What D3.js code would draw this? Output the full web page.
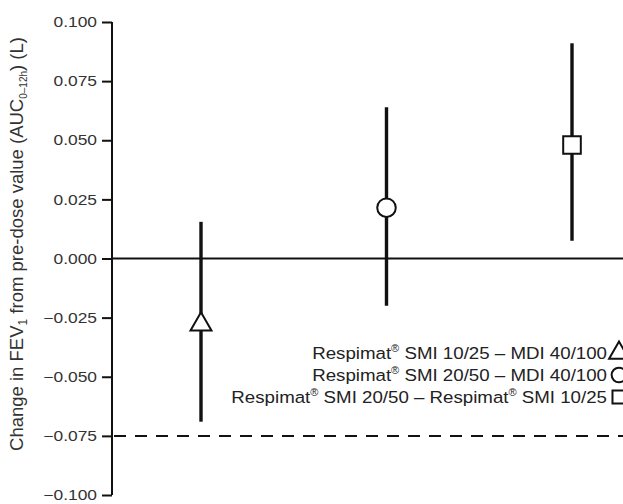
<!DOCTYPE html>
<meta charset="utf-8">
<title>FEV1 change</title>
<style>
    body { margin: 0; background: #fff; }
    svg { font-family: "Liberation Sans", Arial, sans-serif; }
    .tick text { fill: #333; font-size: 14.5px; }
    .legend text { fill: #222; font-size: 17px; }
    .ylabel { fill: #333; font-size: 18.5px; }
    .errbar { stroke: #111; stroke-width: 3.4; }
    .marker { fill: #fff; stroke: #111; stroke-width: 2; }
</style>
<body>
<svg width="623" height="504"></svg>
<script src="https://cdnjs.cloudflare.com/ajax/libs/d3/7.8.5/d3.min.js"></script>
<script>
    // comparisons, left to right
    var categories = ["10/25 vs MDI", "20/50 vs MDI", "20/50 vs 10/25"];
    var means = [-0.027, 0.0215, 0.048];
    var lower = [-0.069, -0.020, 0.0075];
    var upper = [0.0155, 0.064, 0.091];
    var symbols = ["triangle", "circle", "square"];
    var legendLabels = [
        ["Respimat", "®", " SMI 10/25 – MDI 40/100"],
        ["Respimat", "®", " SMI 20/50 – MDI 40/100"],
        ["Respimat", "®", " SMI 20/50 – Respimat", "®", " SMI 10/25"]
    ];
    var yTicks = [0.1, 0.075, 0.05, 0.025, 0, -0.025, -0.05, -0.075, -0.1];
    var margin = -0.075; // non-inferiority margin

    var W = 623, H = 504;
    var axisX = 112;
    var stretch = 1.2; // the scanned type is a bit wider than Liberation Sans
    var svg = d3.select("svg");

    var y = d3.scaleLinear().domain([-0.1, 0.1]).range([495, 22]);
    var x = d3.scalePoint().domain(categories).range([201, 572]);

    // y axis
    var yAxis = svg.append("g")
        .attr("transform", "translate(" + axisX + ",0)")
        .call(d3.axisLeft(y).tickValues(yTicks).tickSize(10).tickPadding(5)
            .tickFormat(function(d) { return d3.format(".3f")(d).replace("-", "\u2013"); }));
    yAxis.select(".domain").attr("stroke", "#111").attr("stroke-width", 2)
        .attr("d", "M0," + y(0.1) + "V" + y(-0.1));
    yAxis.selectAll(".tick line").attr("stroke", "#111").attr("stroke-width", 2);
    yAxis.selectAll(".tick text").attr("font-family", null).attr("font-size", null)
        .attr("x", 0).attr("transform", "translate(-15,0) scale(" + stretch + ",1)");

    // zero line and margin line
    svg.append("line").attr("x1", axisX).attr("x2", W).attr("y1", y(0)).attr("y2", y(0))
        .attr("stroke", "#111").attr("stroke-width", 2);
    svg.append("line").attr("x1", axisX + 2).attr("x2", W).attr("y1", y(margin)).attr("y2", y(margin))
        .attr("stroke", "#111").attr("stroke-width", 2).attr("stroke-dasharray", "12,9");

    // y label
    svg.append("text").attr("class", "ylabel")
        .attr("transform", "translate(23,244) rotate(-90)")
        .attr("text-anchor", "middle")
        .call(function(t) {
            t.append("tspan").text("Change in FEV");
            t.append("tspan").attr("font-size", "12px").attr("dy", 4).text("1");
            t.append("tspan").attr("dy", -4).text(" from pre-dose value (AUC");
            t.append("tspan").attr("font-size", "10px").attr("dy", 4).text("0–12h");
            t.append("tspan").attr("dy", -4).text(") (L)");
        });

    // error bars
    var pts = svg.append("g");
    pts.selectAll(".errbar").data(categories).enter().append("line")
        .attr("class", "errbar")
        .attr("x1", function(d) { return x(d); }).attr("x2", function(d) { return x(d); })
        .attr("y1", function(d, i) { return y(upper[i]); })
        .attr("y2", function(d, i) { return y(lower[i]); });

    function symPath(s, size) {
        var t = s === "triangle" ? d3.symbolTriangle : s === "circle" ? d3.symbolCircle : d3.symbolSquare;
        return d3.symbol().type(t).size(size)();
    }
    var sizes = { triangle: 190, circle: 270, square: 310 };

    pts.selectAll(".marker").data(categories).enter().append("path")
        .attr("class", "marker")
        .attr("d", function(d, i) { return symPath(symbols[i], sizes[symbols[i]]); })
        .attr("transform", function(d, i) {
            var dy = symbols[i] === "triangle" ? 2 : 0;
            return "translate(" + x(d) + "," + (y(means[i]) + dy) + ")";
        });

    // legend
    var legend = svg.append("g").attr("class", "legend");
    var rows = legend.selectAll("g").data(legendLabels).enter().append("g")
        .attr("transform", function(d, i) { return "translate(0," + (359 + i * 22) + ")"; });
    rows.append("text").attr("text-anchor", "end")
        .attr("transform", "translate(607,0) scale(1.1,1)")
        .each(function(parts) {
            var t = d3.select(this);
            parts.forEach(function(p) {
                if (p === "®") t.append("tspan").attr("font-size", "10px").attr("dy", -7).text(p);
                else if (t.selectAll("tspan").size() > 0) t.append("tspan").attr("dy", 7).text(p);
                else t.append("tspan").text(p);
            });
        });
    rows.append("path").attr("class", "marker").attr("stroke-width", 2)
        .attr("d", function(d, i) { return symPath(symbols[i], 170); })
        .attr("transform", "translate(619,-6)");
</script>
</body>
